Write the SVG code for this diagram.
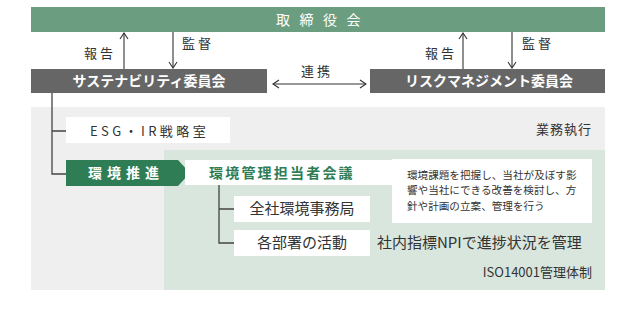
<svg xmlns="http://www.w3.org/2000/svg" width="637" height="321" viewBox="0 0 637 321">
<defs>
<marker id="arr" viewBox="0 0 8 10" refX="7" refY="5" markerWidth="8" markerHeight="10" markerUnits="userSpaceOnUse" orient="auto-start-reverse">
<path d="M1,1 L7,5 L1,9" fill="none" stroke="#333" stroke-width="1.1"/>
</marker>
<style>
text{font-family:"Noto Sans CJK JP","Noto Sans",sans-serif;}
.conn{stroke:#333;stroke-width:1.1;fill:none;}
.tree{stroke:#444;stroke-width:1.3;fill:none;}
.lbl{font-size:13px;fill:#333;letter-spacing:3px;}
.wb{font-size:14px;fill:#fff;font-weight:bold;}
.box{fill:#fff;}
</style>
</defs>
<rect x="31" y="107" width="574" height="183" fill="#efefef"/>
<rect x="164" y="150" width="441" height="140" fill="#d9e6dd"/>
<g id="board">
<rect x="31" y="7" width="574" height="25" fill="#6b9e80"/>
<text x="323" y="25" font-size="14" fill="#fff" text-anchor="middle" letter-spacing="9.5">取締役会</text>
</g>
<g id="sustainability">
<rect x="31" y="69" width="236" height="24" fill="#666"/>
<text class="wb" x="149" y="86" text-anchor="middle">サステナビリティ委員会</text>
</g>
<g id="risk">
<rect x="370" y="69" width="235" height="24" fill="#666"/>
<text class="wb" x="489" y="86" text-anchor="middle">リスクマネジメント委員会</text>
</g>
<g id="esg">
<rect class="box" x="66" y="117" width="164" height="26"/>
<text x="90" y="136" font-size="13" fill="#333" letter-spacing="3.4">ESG・IR戦略室</text>
</g>
<g id="gyomu">
<text x="592" y="134" font-size="13" fill="#333" text-anchor="end" letter-spacing="1">業務執行</text>
</g>
<g id="kankyo-suishin">
<path d="M66,160 H178 L190,173 L178,186 H66 Z" fill="#2e7d55"/>
<text x="126" y="178" font-size="14" font-weight="bold" fill="#fff" text-anchor="middle" letter-spacing="5">環境推進</text>
</g>
<g id="kaigi">
<path d="M185,160 H392 V159 H592 V223 H392 V185 H185 Z" fill="#fff"/>
<text x="209" y="178" font-size="14" font-weight="bold" fill="#2e7d55" letter-spacing="2.2">環境管理担当者会議</text>
<text font-size="10.6" fill="#333"><tspan x="407" y="179">環境課題を把握し、当社が及ぼす影</tspan><tspan x="407" y="194">響や当社にできる改善を検討し、方</tspan><tspan x="407" y="210">針や計画の立案、管理を行う</tspan></text>
</g>
<g id="jimukyoku">
<rect class="box" x="234" y="196" width="136" height="26"/>
<text x="302" y="214" font-size="15" fill="#333" text-anchor="middle">全社環境事務局</text>
</g>
<g id="kakubusho">
<rect class="box" x="234" y="230" width="136" height="26"/>
<text x="302" y="248" font-size="15" fill="#333" text-anchor="middle">各部署の活動</text>
</g>
<g id="npi">
<text x="377" y="248" font-size="15" fill="#333">社内指標NPIで進捗状況を管理</text>
</g>
<g id="iso">
<text x="592" y="277" font-size="13" fill="#333" text-anchor="end">ISO14001管理体制</text>
</g>
<g id="connectors">
<line class="conn" x1="124" y1="69" x2="124" y2="33" marker-end="url(#arr)"/>
<line class="conn" x1="173" y1="32" x2="173" y2="68" marker-end="url(#arr)"/>
<line class="conn" x1="463" y1="69" x2="463" y2="33" marker-end="url(#arr)"/>
<line class="conn" x1="512" y1="32" x2="512" y2="68" marker-end="url(#arr)"/>
<line class="conn" x1="273" y1="84" x2="366" y2="84" marker-start="url(#arr)" marker-end="url(#arr)"/>
<text class="lbl" x="84" y="58">報告</text>
<text class="lbl" x="182" y="48">監督</text>
<text class="lbl" x="425" y="58">報告</text>
<text class="lbl" x="522" y="48">監督</text>
<text class="lbl" x="301" y="76">連携</text>
<path class="tree" d="M52,93 V174 H66 M52,131 H66"/>
<path class="tree" d="M219,185 V243 H234 M219,209 H234"/>
</g>
</svg>
